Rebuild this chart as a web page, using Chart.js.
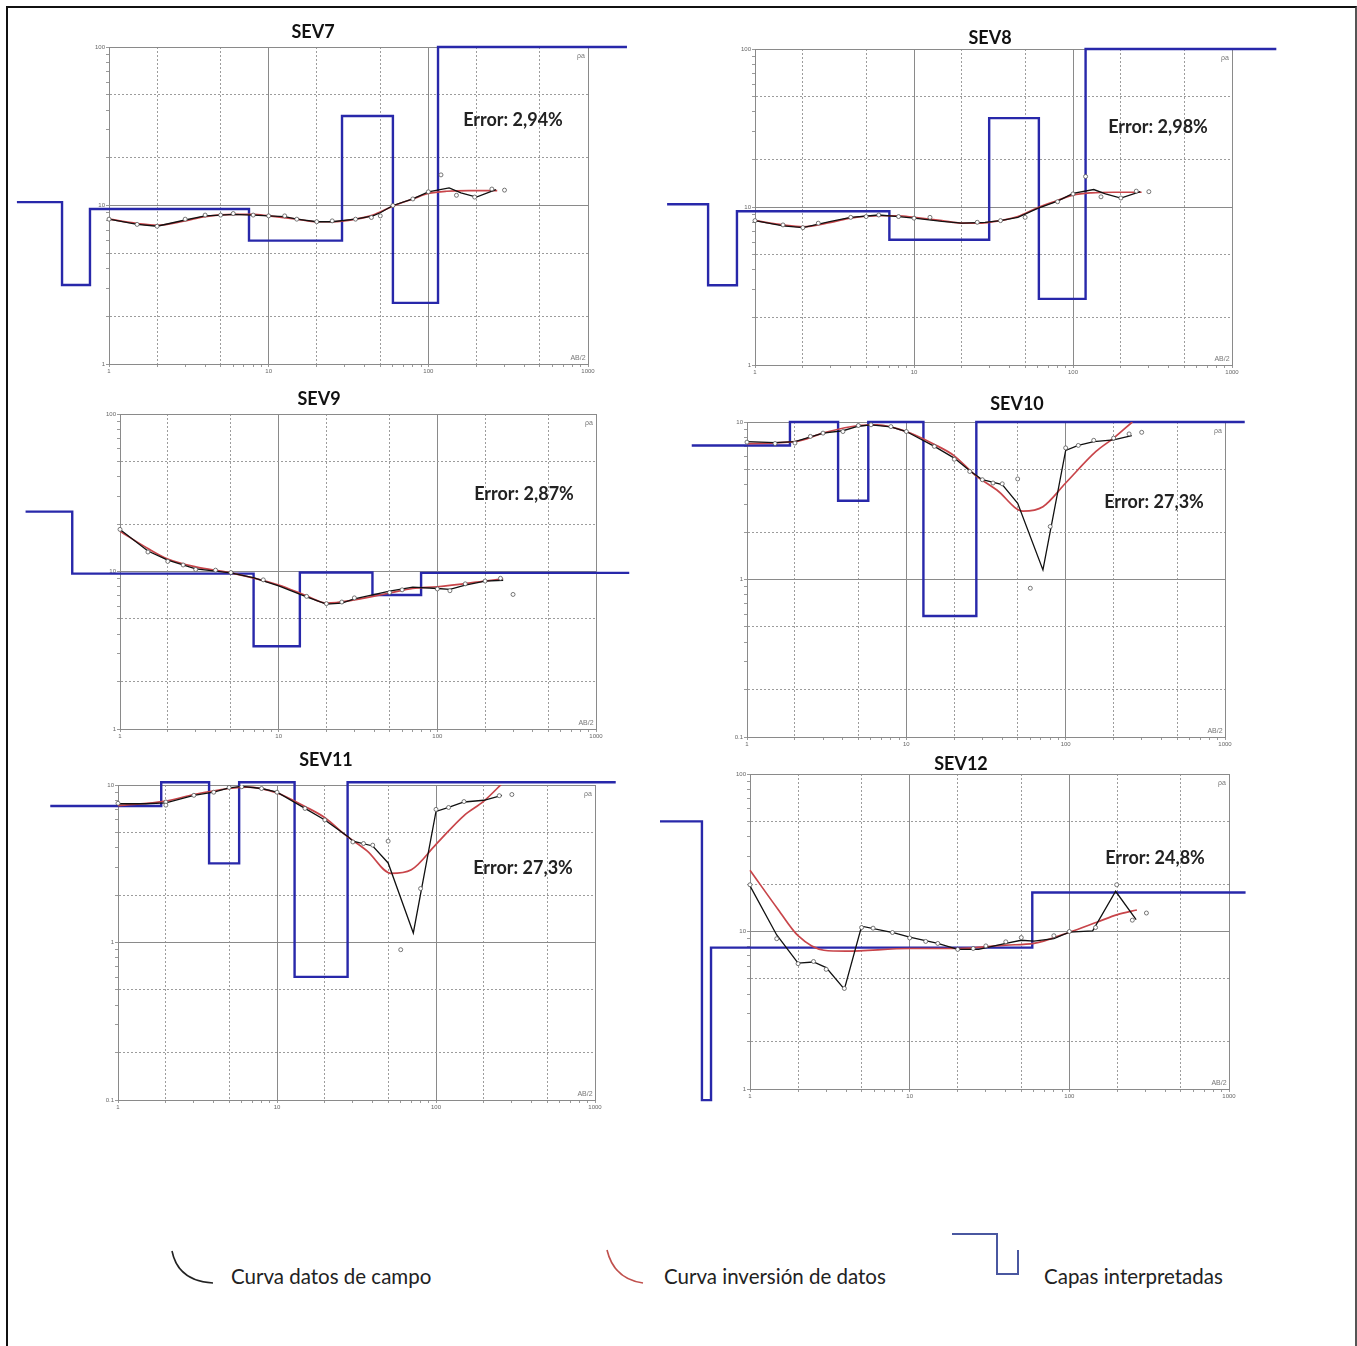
<!DOCTYPE html>
<html><head><meta charset="utf-8">
<script src="https://cdn.jsdelivr.net/npm/chart.js@4.4.1/dist/chart.umd.min.js"></script>
<style>
html,body{margin:0;padding:0;background:#fff;width:1357px;height:1346px;overflow:hidden;}
#stage{position:relative;width:1357px;height:1346px;}
#stage canvas{position:absolute;left:0;top:0;}
#frame{position:absolute;left:6px;top:6px;width:1347px;height:1400px;border-left:2px solid #111;border-top:2px solid #111;border-right:2px solid #555;}
.t{position:absolute;white-space:nowrap;line-height:1;font-family:Lato,"Open Sans",sans-serif;color:#111;}
.c{transform:translate(-50%,-50%);}
.l{transform:translateY(-50%);}
.ttl{font-weight:700;font-size:18px;}
.err{font-weight:700;font-size:18px;color:#222;}
.tiny{font-family:Arial,"Liberation Sans",sans-serif;font-size:7px;color:#777;}
.leg{font-size:20.5px;color:#222;}
</style></head>
<body><div id="stage"><div id="frame"></div>
<svg width="1357" height="1346" style="position:absolute;left:0;top:0" xmlns="http://www.w3.org/2000/svg">
<path d="M172,1251 Q178,1281 213,1283" fill="none" stroke="#222" stroke-width="1.6"/>
<path d="M607,1250 Q614,1279 643,1283" fill="none" stroke="#c0504d" stroke-width="1.6"/>
<path d="M952,1234 L997,1234 L997,1274 L1018,1274 L1018,1250" fill="none" stroke="#4a57a0" stroke-width="2"/>
</svg>
<div class="t l leg" style="left:231px;top:1276px">Curva datos de campo</div>
<div class="t l leg" style="left:664px;top:1276px">Curva inversión de datos</div>
<div class="t l leg" style="left:1044px;top:1276px">Capas interpretadas</div>
</div>
<script>
// ---------------- DATA ----------------
// X axis: AB/2 ; Y axis: apparent resistivity (rho a)

// SEV7
const sev7PtsAB  = [1, 1.5, 2, 3, 4, 5, 6, 8, 10, 12.6, 15, 20, 25, 35, 44, 50, 60, 80, 100, 120, 150, 195, 250, 300];
const sev7PtsRho = [8.2, 7.6, 7.4, 8.2, 8.7, 8.7, 8.9, 8.7, 8.6, 8.6, 8.2, 7.9, 8.0, 8.2, 8.4, 8.6, 10.0, 11.0, 12.2, 15.6, 11.6, 11.3, 12.7, 12.5];
const sev7FieldAB  = [1, 1.5, 2, 3, 4, 5, 6, 8, 10, 12.6, 15, 20, 25, 35, 45, 50, 60, 80, 100, 135, 160, 200, 265];
const sev7FieldRho = [8.2, 7.6, 7.4, 8.1, 8.6, 8.7, 8.8, 8.7, 8.6, 8.5, 8.2, 7.9, 7.9, 8.2, 8.6, 9.0, 10.0, 11.0, 12.2, 12.9, 12.0, 11.3, 12.6];
const sev7InvAB  = [1, 1.5, 2, 3, 4, 6, 8, 10, 15, 20, 25, 35, 45, 60, 80, 100, 130, 180, 270];
const sev7InvRho = [8.2, 7.7, 7.5, 8.0, 8.5, 8.8, 8.8, 8.6, 8.2, 7.9, 7.9, 8.2, 8.7, 9.9, 11.0, 11.9, 12.3, 12.4, 12.4];
const sev7LayerAB  = [0.265, 0.508, 0.76, 7.53, 28.8, 60, 115, 1754];
const sev7LayerRho = [10.5, 3.15, 9.5, 6.0, 36.7, 2.43, 100, 100];

// SEV8
const sev8PtsAB  = [1, 1.5, 2, 2.5, 4, 5, 6, 8, 10, 12.6, 25, 35, 50, 80, 100, 120, 150, 200, 250, 300];
const sev8PtsRho = [8.2, 7.7, 7.4, 7.9, 8.6, 8.7, 8.9, 8.7, 8.5, 8.6, 8.0, 8.2, 8.6, 10.8, 12.1, 15.6, 11.6, 11.4, 12.6, 12.5];
const sev8FieldAB  = [1, 1.5, 2, 3, 4, 6, 8, 10, 15, 20, 28, 35, 45, 60, 80, 100, 135, 160, 200, 265];
const sev8FieldRho = [8.2, 7.6, 7.4, 8.1, 8.6, 8.9, 8.7, 8.5, 8.1, 7.9, 8.0, 8.2, 8.6, 9.8, 10.9, 12.2, 12.9, 12.1, 11.4, 12.5];
const sev8InvAB  = [1, 1.5, 2, 3, 4, 6, 8, 10, 15, 20, 25, 35, 45, 60, 80, 100, 130, 180, 270];
const sev8InvRho = [8.2, 7.7, 7.5, 8.0, 8.5, 8.8, 8.8, 8.6, 8.2, 7.9, 7.9, 8.2, 8.7, 9.9, 11.0, 11.9, 12.3, 12.4, 12.4];
const sev8LayerAB  = [0.28, 0.507, 0.77, 7.0, 29.7, 61, 120, 1900];
const sev8LayerRho = [10.4, 3.2, 9.4, 6.2, 36.5, 2.62, 100, 100];

// SEV9
const sev9PtsAB  = [1, 1.5, 2, 2.5, 3, 4, 5, 8, 15, 20, 25, 30, 50, 60, 100, 120, 150, 200, 250, 300];
const sev9PtsRho = [18.5, 13.3, 11.6, 11.0, 10.3, 10.2, 9.85, 8.85, 6.95, 6.25, 6.4, 6.8, 7.35, 7.65, 7.75, 7.55, 8.35, 8.7, 9.05, 7.15];
const sev9FieldAB  = [1, 1.5, 2, 3, 5, 7, 10, 15, 20, 25, 30, 50, 70, 100, 120, 150, 200, 260];
const sev9FieldRho = [18.5, 13.5, 11.8, 10.4, 9.8, 9.1, 8.1, 6.9, 6.2, 6.3, 6.7, 7.5, 7.95, 7.8, 7.7, 8.2, 8.7, 8.8];
const sev9InvAB  = [1, 1.5, 2, 3, 5, 10, 15, 20, 30, 50, 70, 100, 200, 260];
const sev9InvRho = [18, 14, 12, 10.7, 9.8, 8.2, 7.0, 6.3, 6.6, 7.3, 7.8, 8.0, 8.7, 9.0];
const sev9LayerAB  = [0.254, 0.5, 6.95, 13.6, 39, 79, 1620];
const sev9LayerRho = [24, 9.7, 3.35, 9.85, 7.1, 9.8, 9.8];

// SEV10
const sev10PtsAB  = [1, 1.5, 2, 2.5, 3, 4, 5, 6, 8, 10, 15, 20, 25, 30, 35, 40, 50, 60, 80, 100, 120, 150, 200, 250, 300];
const sev10PtsRho = [7.45, 7.3, 7.35, 8.1, 8.5, 8.7, 9.5, 9.6, 9.35, 8.7, 7.0, 5.8, 4.85, 4.3, 4.1, 4.05, 4.35, 0.88, 2.17, 6.85, 7.1, 7.65, 7.9, 8.4, 8.6];
const sev10FieldAB  = [1, 1.5, 2, 3, 4, 5, 6, 8, 10, 15, 20, 25, 30, 40, 50, 72, 100, 120, 150, 200, 260];
const sev10FieldRho = [7.5, 7.4, 7.5, 8.5, 8.8, 9.4, 9.6, 9.3, 8.7, 7.0, 5.9, 4.9, 4.3, 4.0, 3.05, 1.15, 6.6, 7.1, 7.5, 7.7, 8.2];
const sev10InvAB  = [1, 2, 3, 5, 6.6, 10, 15, 20, 27, 37, 54, 72, 100, 155, 200, 262];
const sev10InvRho = [7.3, 7.5, 8.5, 9.5, 9.6, 8.7, 7.2, 6.1, 4.6, 3.7, 2.72, 2.9, 4.1, 6.5, 7.9, 10];
const sev10LayerAB  = [0.45, 1.86, 3.73, 5.77, 12.8, 27.5, 1330];
const sev10LayerRho = [7.1, 10, 3.16, 10, 0.586, 10, 10];

// SEV11
const sev11PtsAB  = [1, 2, 2, 3, 4, 5, 6, 8, 10, 15, 20, 30, 35, 40, 50, 60, 80, 100, 120, 150, 250, 300];
const sev11PtsRho = [7.65, 7.8, 7.45, 8.6, 9.0, 9.65, 9.75, 9.5, 9.0, 7.1, 6.0, 4.35, 4.25, 4.15, 4.4, 0.9, 2.2, 7.0, 7.2, 7.85, 8.55, 8.7];
const sev11FieldAB  = [1, 1.5, 2, 3, 4, 5, 6, 8, 10, 15, 20, 28, 30, 40, 50, 72, 100, 120, 150, 200, 260];
const sev11FieldRho = [7.6, 7.6, 7.7, 8.6, 9.0, 9.6, 9.8, 9.5, 9.0, 7.1, 6.0, 4.7, 4.4, 4.1, 3.2, 1.15, 6.8, 7.2, 7.8, 8.0, 8.6];
const sev11InvAB  = [1, 2, 3, 5, 6.5, 10, 15, 20, 27, 37, 52, 70, 100, 150, 200, 265];
const sev11InvRho = [7.4, 7.9, 8.7, 9.5, 9.7, 8.9, 7.3, 6.2, 4.8, 3.8, 2.75, 2.9, 4.2, 6.4, 7.9, 10.4];
const sev11LayerAB  = [0.375, 1.87, 3.74, 5.78, 12.9, 27.8, 1350];
const sev11LayerRho = [7.35, 10.4, 3.18, 10.4, 0.605, 10.4, 10.4];

// SEV12
const sev12PtsAB  = [1, 1.47, 2, 2.5, 3, 3.9, 5, 5.9, 7.8, 10, 12.6, 15, 20, 25, 30, 40, 50, 80, 100, 146, 198, 248, 304];
const sev12PtsRho = [19.8, 9.0, 6.25, 6.45, 5.75, 4.35, 10.6, 10.5, 9.85, 9.1, 8.65, 8.4, 7.7, 7.8, 8.1, 8.6, 9.15, 9.4, 10.0, 10.6, 19.8, 11.8, 13.1];
const sev12FieldAB  = [1, 1.47, 2, 2.5, 3, 3.9, 5, 8, 10, 15, 20, 27, 40, 50, 60, 80, 100, 140, 195, 262];
const sev12FieldRho = [19.5, 9.5, 6.3, 6.4, 5.9, 4.3, 10.8, 9.8, 9.2, 8.4, 7.7, 7.7, 8.4, 8.8, 8.7, 9.0, 9.9, 10.1, 18.0, 11.9];
const sev12InvAB  = [1, 1.5, 2, 2.9, 4, 10, 20, 40, 60, 100, 150, 200, 265];
const sev12InvRho = [24.5, 13.8, 9.4, 7.6, 7.5, 7.8, 7.8, 8.2, 8.4, 9.9, 11.5, 12.8, 13.7];
const sev12LayerAB  = [0.273, 0.5, 0.57, 58.6, 1270];
const sev12LayerRho = [50, 0.85, 7.9, 17.7, 17.7];

const titles = ['SEV7', 'SEV8', 'SEV9', 'SEV10', 'SEV11', 'SEV12'];
const errors = ['Error: 2,94%', 'Error: 2,98%', 'Error: 2,87%', 'Error: 27,3%', 'Error: 27,3%', 'Error: 24,8%'];
const xRange = [1, 1000];

// ---------------- LAYOUT ----------------
const W = 1357, H = 1346;
const YAXW = 20, XAXH = 12;
const panels = [
  {rect:[109,47,588,364],  y:[1,100],  title:[313,31],  err:[513,119], pts:[sev7PtsAB,sev7PtsRho],   field:[sev7FieldAB,sev7FieldRho],   inv:[sev7InvAB,sev7InvRho],   lay:[sev7LayerAB,sev7LayerRho]},
  {rect:[755,49,1232,365], y:[1,100],  title:[990,37],  err:[1158,126],pts:[sev8PtsAB,sev8PtsRho],   field:[sev8FieldAB,sev8FieldRho],   inv:[sev8InvAB,sev8InvRho],   lay:[sev8LayerAB,sev8LayerRho]},
  {rect:[120,414,596,729], y:[1,100],  title:[319,398], err:[524,493], pts:[sev9PtsAB,sev9PtsRho],   field:[sev9FieldAB,sev9FieldRho],   inv:[sev9InvAB,sev9InvRho],   lay:[sev9LayerAB,sev9LayerRho]},
  {rect:[747,422,1225,737],y:[0.1,10], title:[1017,403],err:[1154,501],pts:[sev10PtsAB,sev10PtsRho], field:[sev10FieldAB,sev10FieldRho], inv:[sev10InvAB,sev10InvRho], lay:[sev10LayerAB,sev10LayerRho]},
  {rect:[118,785,595,1100],y:[0.1,10], title:[326,759], err:[523,867], pts:[sev11PtsAB,sev11PtsRho], field:[sev11FieldAB,sev11FieldRho], inv:[sev11InvAB,sev11InvRho], lay:[sev11LayerAB,sev11LayerRho]},
  {rect:[750,774,1229,1089],y:[1,100], title:[961,763], err:[1155,857],pts:[sev12PtsAB,sev12PtsRho], field:[sev12FieldAB,sev12FieldRho], inv:[sev12InvAB,sev12InvRho], lay:[sev12LayerAB,sev12LayerRho]}
];

const zip = ([xs, ys]) => xs.map((x, i) => ({x, y: ys[i]}));
const mant = v => { const e = Math.floor(Math.log10(v) + 1e-9); return Math.round(v / Math.pow(10, e)); };
const fmt = v => (v >= 1 ? String(Math.round(v)) : String(+v.toPrecision(2)));

function logTicks(min, max) {
  const out = [];
  for (let e = Math.round(Math.log10(min)); e < Math.round(Math.log10(max)); e++)
    for (let m = 1; m < 10; m++) out.push(+(m * Math.pow(10, e)).toPrecision(3));
  out.push(max);
  return out;
}

function axis(min, max, isX) {
  const tv = logTicks(min, max);
  const cfg = {
    type: 'logarithmic', position: isX ? 'bottom' : 'left', bounds: 'data',
    afterBuildTicks: s => { s.ticks = tv.map(v => ({value: v})); },
    afterFit: s => { if (isX) s.height = XAXH; else s.width = YAXW; },
    ticks: {
      autoSkip: false, maxRotation: 0, minRotation: 0, padding: 1,
      font: {size: 6, family: 'Arial'}, color: '#666',
      callback: v => (mant(v) === 1 ? fmt(v) : '')
    },
    grid: {
      color: c => { if (!c.tick) return '#8a8a8a'; const m = mant(c.tick.value); return m === 1 ? '#8a8a8a' : (m === 2 || m === 5) ? '#9c9c9c' : 'rgba(0,0,0,0)'; },
      lineWidth: 1, drawTicks: true, tickLength: 3, tickColor: '#9a9a9a', tickWidth: 1
    },
    border: {
      display: true, color: '#8a8a8a', width: 1,
      dash: c => (c.tick && [2, 5].includes(mant(c.tick.value))) ? [2, 2] : []
    }
  };
  if (isX) {
    // range fixed after data limits so that layer lines outside the frame are still drawn
    cfg.afterDataLimits = s => { s.min = min; s.max = max; };
  } else { cfg.min = min; cfg.max = max; }
  return cfg;
}

const stage = document.getElementById('stage');
function addText(cls, txt, x, y) {
  const d = document.createElement('div');
  d.className = 't ' + cls; d.textContent = txt;
  d.style.left = x + 'px'; d.style.top = y + 'px';
  stage.appendChild(d);
}

panels.forEach((p, i) => {
  const [L, T, R, B] = p.rect;
  const cv = document.createElement('canvas');
  cv.width = W; cv.height = H; cv.style.width = W + 'px'; cv.style.height = H + 'px';
  stage.appendChild(cv);
  new Chart(cv, {
    type: 'line',
    data: {datasets: [
      {data: zip(p.pts), showLine: false, pointRadius: 2, pointBorderWidth: 0.8, pointBorderColor: '#555', pointBackgroundColor: '#fff', order: 0},
      {data: zip(p.field), borderColor: '#111', borderWidth: 1.3, pointRadius: 0, tension: 0, order: 1},
      {data: zip(p.inv), borderColor: '#c8454a', borderWidth: 1.7, pointRadius: 0, cubicInterpolationMode: 'monotone', order: 2},
      {data: zip(p.lay), borderColor: '#2828aa', borderWidth: 2.4, pointRadius: 0, stepped: true, clip: false, order: 3}
    ]},
    options: {
      responsive: false, animation: false, devicePixelRatio: 1, events: [],
      layout: {padding: {left: L - YAXW, top: T, right: W - R, bottom: H - B - XAXH}},
      plugins: {legend: {display: false}, tooltip: {enabled: false}, title: {display: false}},
      scales: {x: axis(xRange[0], xRange[1], true), y: axis(p.y[0], p.y[1], false)}
    }
  });
  addText('c ttl', titles[i], p.title[0], p.title[1]);
  addText('c err', errors[i], p.err[0], p.err[1]);
  addText('c tiny', 'ρa', R - 7, T + 8);
  addText('c tiny', 'AB/2', R - 10, B - 7);
});
</script>
</body></html>
